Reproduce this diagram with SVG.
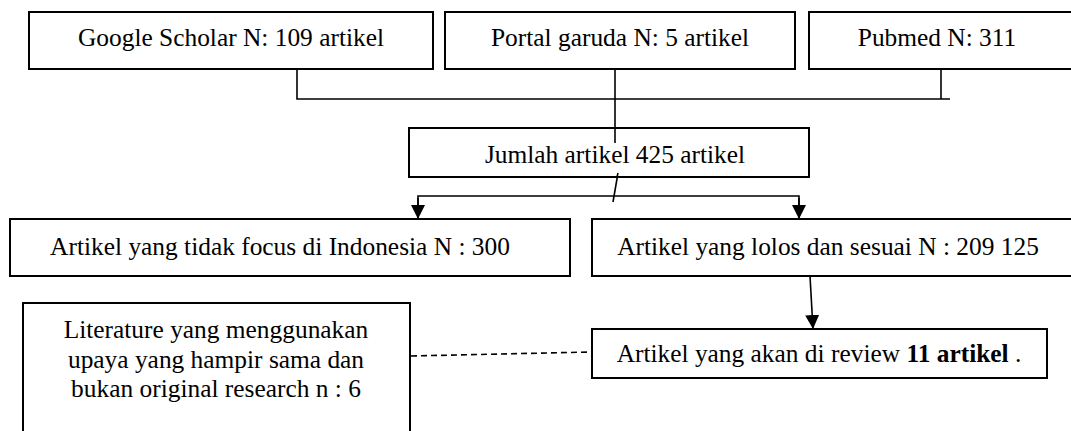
<svg xmlns="http://www.w3.org/2000/svg" width="1071" height="431" viewBox="0 0 1071 431">
<style>
.box{fill:#fff;stroke:#000;stroke-width:2}
text{font-family:'Liberation Serif','Times New Roman',serif;font-size:25.4px;fill:#000;text-anchor:middle}
.c{fill:none;stroke:#000;stroke-width:1.6}
.d{fill:none;stroke:#000;stroke-width:1.6;stroke-dasharray:6 4}
</style>
<defs>
<marker id="ah" markerUnits="userSpaceOnUse" markerWidth="14" markerHeight="14" viewBox="0 0 14 14" refX="14" refY="7" orient="auto">
<path d="M0,0 L14,7 L0,14 Z" fill="#000"/>
</marker>
</defs>
<rect width="1071" height="431" fill="#fff"/>
<g id="connectors">
<polyline class="c" points="297,69 297,99 950,99"/>
<line class="c" x1="941" y1="69" x2="941" y2="99"/>
<line class="c" x1="615" y1="69" x2="615" y2="143"/>
<line class="c" x1="618" y1="173" x2="613" y2="202"/>
<polyline class="c" points="418,219 418,196 799,196 799,219"/>
<line class="c" x1="418" y1="198" x2="418" y2="219" marker-end="url(#ah)"/>
<line class="c" x1="799" y1="198" x2="799" y2="219" marker-end="url(#ah)"/>
<line class="c" x1="810" y1="276" x2="813" y2="329" marker-end="url(#ah)"/>
<line class="d" x1="411" y1="356" x2="591" y2="352"/>
</g>
<g id="google">
<rect class="box" x="29" y="12" width="404" height="57"/>
<text x="231" y="46" font-family="Liberation Serif, serif">Google Scholar N: 109 artikel</text>
</g>
<g id="garuda">
<rect class="box" x="445" y="12" width="350" height="57"/>
<text x="620" y="46" font-family="Liberation Serif, serif">Portal garuda N: 5 artikel</text>
</g>
<g id="pubmed">
<rect class="box" x="809" y="12" width="266" height="57"/>
<text x="937" y="46" font-family="Liberation Serif, serif">Pubmed N: 311</text>
</g>
<g id="jumlah">
<rect class="box" x="409" y="128" width="400" height="49"/>
<text x="615" y="163" font-family="Liberation Serif, serif">Jumlah artikel 425 artikel</text>
</g>
<line class="c" x1="615" y1="128" x2="615" y2="143"/>
<line class="c" x1="618" y1="173" x2="617" y2="177"/>
<g id="tidak">
<rect class="box" x="10" y="219" width="560" height="57"/>
<text x="280" y="255" font-family="Liberation Serif, serif">Artikel yang tidak focus di Indonesia N : 300</text>
</g>
<g id="lolos">
<rect class="box" x="592" y="219" width="485" height="57"/>
<text x="828" y="255" font-family="Liberation Serif, serif">Artikel yang lolos dan sesuai N : 209 125</text>
</g>
<g id="review">
<rect class="box" x="592" y="329" width="455" height="49"/>
<text x="819" y="362" font-family="Liberation Serif, serif">Artikel yang akan di review <tspan font-weight="bold">11 artikel</tspan> .</text>
</g>
<g id="literature">
<rect class="box" x="23" y="303" width="387" height="140"/>
<text x="216" y="338" font-family="Liberation Serif, serif">Literature yang menggunakan</text>
<text x="216" y="367.5" font-family="Liberation Serif, serif">upaya yang hampir sama dan</text>
<text x="216" y="397" font-family="Liberation Serif, serif">bukan original research n : 6</text>
</g>
</svg>
